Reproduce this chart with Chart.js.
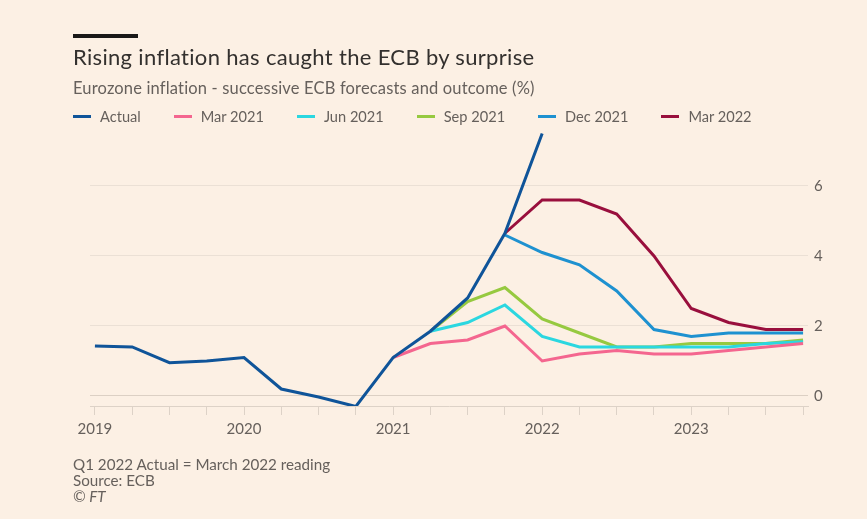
<!DOCTYPE html>
<html>
<head>
<meta charset="utf-8">
<script src="https://cdn.jsdelivr.net/npm/chart.js@4.4.1/dist/chart.umd.min.js"></script>
<style>
  html, body { margin: 0; padding: 0; }
  body { width: 867px; height: 519px; background: #fcf0e4; position: relative; overflow: hidden; font-family: Lato, "Open Sans", sans-serif; }
  #bar { position: absolute; left: 73px; top: 34px; width: 65px; height: 4px; background: #1a1817; }
  #title { position: absolute; left: 73px; top: 43px; font-size: 22px; color: #33302e; white-space: nowrap; }
  #subtitle { position: absolute; left: 73px; top: 78px; font-size: 16.5px; color: #66605c; white-space: nowrap; }
  #legend { position: absolute; left: 73px; top: 108px; display: flex; font-size: 14.6px; color: #66605c; white-space: nowrap; }
  .item { display: flex; align-items: center; margin-right: 33px; }
  .swatch { width: 18px; height: 3px; margin-right: 9px; }
  #notes { position: absolute; left: 73px; top: 456px; font-size: 15.2px; color: #66605c; line-height: 16px; white-space: nowrap; }
  #wrap { position: absolute; left: 0; top: 0; width: 867px; height: 519px; }
</style>
</head>
<body>
<div id="wrap"><canvas id="c"></canvas></div>
<div id="bar"></div>
<div id="title">Rising inflation has caught the ECB by surprise</div>
<div id="subtitle">Eurozone inflation - successive ECB forecasts and outcome (%)</div>
<div id="legend"></div>
<div id="notes"><span id="n1">Q1 2022 Actual = March 2022 reading</span><br>Source: ECB<br><i>© FT</i></div>
<script>
// Quarters (categories)
const quarters = ['2019 Q1','2019 Q2','2019 Q3','2019 Q4','2020 Q1','2020 Q2','2020 Q3','2020 Q4',
                  '2021 Q1','2021 Q2','2021 Q3','2021 Q4','2022 Q1','2022 Q2','2022 Q3','2022 Q4',
                  '2023 Q1','2023 Q2','2023 Q3','2023 Q4'];
// Series values (%)
const actual  = [1.43, 1.4, 0.95, 1.0, 1.1, 0.2, -0.03, -0.3, 1.1, 1.85, 2.8, 4.65, 7.5, null, null, null, null, null, null, null];
const mar2021 = [null, null, null, null, null, null, null, null, 1.1, 1.5, 1.6, 2.0, 1.0, 1.2, 1.3, 1.2, 1.2, 1.3, 1.4, 1.5];
const jun2021 = [null, null, null, null, null, null, null, null, null, 1.85, 2.1, 2.6, 1.7, 1.4, 1.4, 1.4, 1.4, 1.4, 1.5, 1.55];
const sep2021 = [null, null, null, null, null, null, null, null, null, 1.85, 2.7, 3.1, 2.2, 1.8, 1.4, 1.4, 1.5, 1.5, 1.5, 1.6];
const dec2021 = [null, null, null, null, null, null, null, null, null, null, null, 4.6, 4.1, 3.75, 3.0, 1.9, 1.7, 1.8, 1.8, 1.8];
const mar2022 = [null, null, null, null, null, null, null, null, null, null, null, 4.65, 5.6, 5.6, 5.2, 4.0, 2.5, 2.1, 1.9, 1.9];
// Tick labels
const yearLabels = ['2019','2020','2021','2022','2023'];
const yTicks = [0, 2, 4, 6];

const seriesNames = ['Actual','Mar 2021','Jun 2021','Sep 2021','Dec 2021','Mar 2022'];
const seriesData = [actual, mar2021, jun2021, sep2021, dec2021, mar2022];
const seriesColors = ['#0f5499','#f4668f','#2bd7e0','#96c940','#1e91d0','#990f3d'];

const qx = q => { const [y, qq] = q.split(' Q'); return +y + (+qq - 1) / 4; };

// fit text widths to the reference by letter-spacing
function fitWidth(el, target) {
  const w = el.getBoundingClientRect().width;
  const n = el.textContent.length;
  el.style.letterSpacing = ((target - w) / n).toFixed(3) + 'px';
}
fitWidth(document.getElementById('title'), 462);
fitWidth(document.getElementById('subtitle'), 462);

// HTML legend
const leg = document.getElementById('legend');
seriesNames.forEach((n, i) => {
  const it = document.createElement('div'); it.className = 'item';
  const sw = document.createElement('div'); sw.className = 'swatch'; sw.style.background = seriesColors[i];
  const tx = document.createElement('span'); tx.textContent = n;
  it.appendChild(sw); it.appendChild(tx); leg.appendChild(it);
});

const datasets = seriesNames.map((n, i) => ({
  label: n,
  data: quarters.map((q, j) => ({ x: qx(q), y: seriesData[i][j] })),
  borderColor: seriesColors[i],
  backgroundColor: seriesColors[i],
  borderWidth: 3,
  pointRadius: 0,
  tension: 0,
  spanGaps: false,
  borderCapStyle: 'butt',
  borderJoinStyle: 'miter'
}));

new Chart(document.getElementById('c'), {
  type: 'line',
  data: { datasets },
  options: {
    responsive: true,
    maintainAspectRatio: false,
    animation: false,
    layout: { padding: { left: 90, top: 130, right: 0, bottom: 83 } },
    plugins: { legend: { display: false }, tooltip: { enabled: false } },
    scales: {
      x: {
        type: 'linear',
        min: 2018.967,
        max: 2023.783,
        afterBuildTicks: s => { s.ticks = quarters.map(q => ({ value: qx(q) })); },
        afterFit: s => { s.height = 30; },
        grid: { drawOnChartArea: false, drawTicks: true, tickLength: 9, color: '#ddd2c7' },
        border: { display: true, color: '#ddd2c7', width: 1 },
        ticks: {
          autoSkip: false, maxRotation: 0, padding: 5,
          color: '#66605c', font: { family: 'Lato', size: 15 },
          callback: v => { const s = String(Math.round(v)); return Math.abs(v - Math.round(v)) < 1e-6 && yearLabels.includes(s) ? s : ''; }
        }
      },
      y: {
        position: 'right',
        min: -0.286,
        max: 7.6,
        afterBuildTicks: s => { s.ticks = yTicks.map(v => ({ value: v })); },
        afterFit: s => { s.width = 59; },
        grid: { drawTicks: false, color: c => c.tick && c.tick.value === 0 ? '#dcd0c4' : '#ebe0d5' },
        border: { display: false },
        ticks: { padding: 6, color: '#66605c', font: { family: 'Lato', size: 15 } }
      }
    }
  }
});
</script>
</body>
</html>
